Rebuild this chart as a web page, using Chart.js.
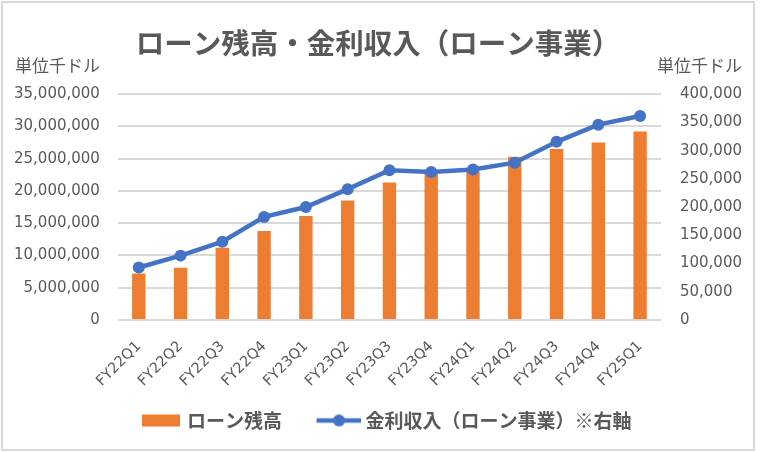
<!DOCTYPE html>
<html lang="ja">
<head>
<meta charset="utf-8">
<title>ローン残高・金利収入（ローン事業）</title>
<script src="https://cdn.jsdelivr.net/npm/chart.js@4.4.1/dist/chart.umd.min.js"></script>
<style>
    html, body { margin: 0; padding: 0; background: #fff; }
    #wrap { position: relative; width: 765px; height: 452px; }
    #wrap canvas { position: absolute; left: 0; top: 0; }
    #frame { position: absolute; left: 1px; top: 1px; width: 750px; height: 446px; border: 2px solid #d9d9d9; pointer-events: none; }
</style>
</head>
<body>
<div id="wrap">
    <canvas id="loanChart" width="765" height="452"></canvas>
    <div id="frame"></div>
</div>
<script>
// Data
const quarters = ['FY22Q1', 'FY22Q2', 'FY22Q3', 'FY22Q4', 'FY23Q1', 'FY23Q2', 'FY23Q3',
                  'FY23Q4', 'FY24Q1', 'FY24Q2', 'FY24Q3', 'FY24Q4', 'FY25Q1'];
const loanBalance = [7200000, 8100000, 11200000, 13800000, 16100000, 18500000, 21300000,
                     22700000, 23000000, 25300000, 26500000, 27500000, 29200000];
const interestIncome = [92800, 113900, 138500, 182500, 200100, 231700, 265100,
                        262300, 266400, 278700, 315600, 346000, 361300];

const leftAxisMax = 35000000;
const leftAxisStep = 5000000;
const rightAxisMax = 400000;
const rightAxisStep = 50000;

const chartTitle = 'ローン残高・金利収入（ローン事業）';
const balanceLabel = 'ローン残高';
const incomeLabel = '金利収入（ローン事業）※右軸';
const unitText = '単位千ドル';

// Colours / fonts
const orange = '#ED7D31';
const blue = '#4472C4';
const textColor = '#595959';
const gridColor = '#d9d9d9';
const jpFont = '"Noto Sans CJK JP", "Noto Sans", sans-serif';
const numFont = '"DejaVu Sans", "Noto Sans CJK JP", sans-serif';

// Legend icons on small canvases; the legend draws them centred on a 53px slot,
// so the visible part is pushed to the right, next to the text
function makeBarIcon() {
    const c = document.createElement('canvas');
    c.width = 58; c.height = 14;
    const g = c.getContext('2d');
    g.fillStyle = orange;
    g.fillRect(20, 1, 38, 12);
    return c;
}

function makeLineIcon() {
    const c = document.createElement('canvas');
    c.width = 64; c.height = 14;
    const g = c.getContext('2d');
    g.strokeStyle = blue;
    g.lineWidth = 4.5;
    g.beginPath();
    g.moveTo(19, 7);
    g.lineTo(64, 7);
    g.stroke();
    g.fillStyle = blue;
    g.beginPath();
    g.arc(41.5, 7, 6, 0, Math.PI * 2);
    g.fill();
    return c;
}

const legendIcons = [makeBarIcon(), makeLineIcon()];

// "単位千ドル" above both value axes
const unitLabels = {
    id: 'unitLabels',
    afterDraw(chart) {
        const { ctx, chartArea, scales } = chart;
        ctx.save();
        ctx.font = '17px ' + jpFont;
        ctx.fillStyle = textColor;
        ctx.textBaseline = 'middle';
        const y = chartArea.top - 29;
        ctx.textAlign = 'left';
        ctx.fillText(unitText, scales.y.left + 1, y);
        ctx.textAlign = 'right';
        ctx.fillText(unitText, scales.y1.right, y);
        ctx.restore();
    }
};

const fmt = v => Number(v).toLocaleString('en-US');

// axes reserve their tick padding twice; keep it once
const trimWidth = scale => { scale.width -= scale.options.ticks.padding; };

const ctx = document.getElementById('loanChart').getContext('2d');
const loanChart = new Chart(ctx, {
    type: 'bar',
    plugins: [unitLabels],
    data: {
        labels: quarters,
        datasets: [
            {
                type: 'line',
                label: incomeLabel,
                data: interestIncome,
                yAxisID: 'y1',
                borderColor: blue,
                backgroundColor: blue,
                borderWidth: 4.5,
                pointRadius: 6,
                pointBorderWidth: 0,
                pointBackgroundColor: blue,
                tension: 0
            },
            {
                type: 'bar',
                label: balanceLabel,
                data: loanBalance,
                yAxisID: 'y',
                backgroundColor: orange,
                barPercentage: 0.32,
                categoryPercentage: 1
            }
        ]
    },
    options: {
        responsive: false,
        animation: false,
        devicePixelRatio: 1,
        layout: { padding: { left: 14, right: 23, top: 0, bottom: 12 } },
        plugins: {
            title: {
                display: true,
                text: chartTitle,
                color: textColor,
                font: { family: jpFont, size: 28.5, weight: 'bold' },
                padding: { top: 26, bottom: 34 }
            },
            legend: {
                position: 'bottom',
                labels: {
                    usePointStyle: true,
                    pointStyleWidth: 53,
                    padding: 21,
                    color: textColor,
                    font: { family: jpFont, size: 19, weight: 'bold' },
                    generateLabels: () => [
                        { text: balanceLabel, pointStyle: legendIcons[0], datasetIndex: 1, fontColor: textColor, lineWidth: 0, hidden: false },
                        { text: incomeLabel, pointStyle: legendIcons[1], datasetIndex: 0, fontColor: textColor, lineWidth: 0, hidden: false }
                    ]
                }
            },
            tooltip: { enabled: false }
        },
        scales: {
            x: {
                grid: { display: false, drawTicks: false },
                border: { display: false },
                afterFit(scale) {
                    // rotated labels fit under the left axis labels, as in the original
                    scale.paddingLeft = 0;
                    scale.paddingRight = 0;
                    scale.height -= scale.options.ticks.padding;
                },
                ticks: {
                    color: textColor,
                    font: { family: numFont, size: 14.5 },
                    autoSkip: false,
                    minRotation: 45,
                    maxRotation: 45,
                    padding: 18
                }
            },
            y: {
                position: 'left',
                min: 0,
                max: leftAxisMax,
                grid: { color: gridColor, lineWidth: 2, drawTicks: false },
                border: { display: false },
                afterFit: trimWidth,
                ticks: {
                    stepSize: leftAxisStep,
                    color: textColor,
                    font: { family: numFont, size: 15 },
                    padding: 18,
                    callback: fmt
                }
            },
            y1: {
                position: 'right',
                min: 0,
                max: rightAxisMax,
                grid: { drawOnChartArea: false, drawTicks: false },
                border: { display: false },
                afterFit: trimWidth,
                ticks: {
                    stepSize: rightAxisStep,
                    color: textColor,
                    font: { family: numFont, size: 15 },
                    padding: 19,
                    callback: fmt
                }
            }
        }
    }
});
</script>
</body>
</html>
